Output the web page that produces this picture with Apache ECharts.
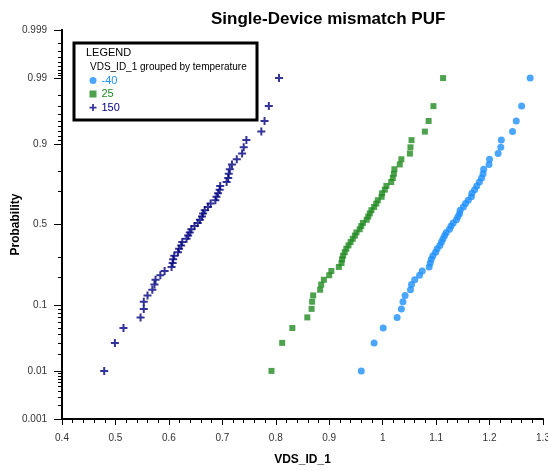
<!DOCTYPE html>
<html>
<head>
<meta charset="utf-8">
<script src="https://cdn.jsdelivr.net/npm/echarts@6/dist/echarts.min.js"></script>
<style>
html, body { margin: 0; padding: 0; background: #fff; }
#chart { width: 548px; height: 471px; }
</style>
</head>
<body>
<div id="chart"></div>
<script>
// sorted VDS_ID_1 readings per temperature group (50 devices each)
const temps = ['-40', '25', '150']
const vdsMinus40 = [0.960, 0.984, 1.001, 1.027, 1.035, 1.038, 1.042, 1.052, 1.054, 1.060,
  1.069, 1.074, 1.087, 1.089, 1.091, 1.094, 1.099, 1.102, 1.107, 1.110,
  1.113, 1.116, 1.119, 1.125, 1.128, 1.132, 1.138, 1.141, 1.144, 1.145,
  1.151, 1.155, 1.160, 1.166, 1.167, 1.172, 1.176, 1.181, 1.185, 1.188,
  1.189, 1.199, 1.200, 1.216, 1.221, 1.222, 1.243, 1.250, 1.260, 1.276]
const vds25 = [0.792, 0.812, 0.831, 0.859, 0.867, 0.868, 0.870, 0.883, 0.885, 0.890,
  0.900, 0.904, 0.918, 0.923, 0.924, 0.926, 0.929, 0.932, 0.936, 0.940,
  0.944, 0.948, 0.951, 0.957, 0.960, 0.963, 0.970, 0.973, 0.976, 0.979,
  0.984, 0.988, 0.991, 0.998, 0.999, 1.004, 1.007, 1.016, 1.019, 1.021,
  1.022, 1.032, 1.035, 1.051, 1.052, 1.054, 1.079, 1.086, 1.095, 1.113]
const vds150 = [0.479, 0.499, 0.515, 0.547, 0.553, 0.553, 0.560, 0.569, 0.573, 0.575,
  0.584, 0.592, 0.605, 0.607, 0.608, 0.610, 0.617, 0.619, 0.623, 0.625,
  0.633, 0.636, 0.639, 0.642, 0.648, 0.654, 0.658, 0.662, 0.664, 0.667,
  0.673, 0.678, 0.687, 0.689, 0.692, 0.695, 0.696, 0.708, 0.711, 0.712,
  0.714, 0.718, 0.727, 0.737, 0.740, 0.745, 0.773, 0.779, 0.787, 0.806]

const probLabels = [0.001, 0.01, 0.1, 0.5, 0.9, 0.99, 0.999]
const probMinor = [0.002, 0.003, 0.004, 0.005, 0.006, 0.007, 0.008, 0.009,
  0.02, 0.03, 0.04, 0.05, 0.06, 0.07, 0.08, 0.09, 0.2, 0.3, 0.7, 0.8,
  0.91, 0.92, 0.93, 0.94, 0.95, 0.96, 0.97, 0.98,
  0.991, 0.992, 0.993, 0.994, 0.995, 0.996, 0.997, 0.998]

const colors = ['#1E90FF', '#228B22', '#000080']
const FONT = 'Arial, "Liberation Sans", sans-serif'
const PLUS = 'path://M3,0H5V3H8V5H5V8H3V5H0V3H3Z'

// inverse normal cdf (Acklam) -> probability axis is linear in z
function probit(p) {
  const a = [-39.69683028665376, 220.9460984245205, -275.9285104469687, 138.3577518672690, -30.66479806614716, 2.506628277459239]
  const b = [-54.47609879822406, 161.5858368580409, -155.6989798598866, 66.80131188771972, -13.28068155288572]
  const c = [-0.007784894002430293, -0.3223964580411365, -2.400758277161838, -2.549732539343734, 4.374664141464968, 2.938163982698783]
  const d = [0.007784695709041462, 0.3224671290700398, 2.445134137142996, 3.754408661907416]
  const lo = 0.02425
  let q, r
  if (p < lo) {
    q = Math.sqrt(-2 * Math.log(p))
    return (((((c[0] * q + c[1]) * q + c[2]) * q + c[3]) * q + c[4]) * q + c[5]) / ((((d[0] * q + d[1]) * q + d[2]) * q + d[3]) * q + 1)
  }
  if (p > 1 - lo) return -probit(1 - p)
  q = p - 0.5
  r = q * q
  return (((((a[0] * r + a[1]) * r + a[2]) * r + a[3]) * r + a[4]) * r + a[5]) * q / (((((b[0] * r + b[1]) * r + b[2]) * r + b[3]) * r + b[4]) * r + 1)
}

// plotting position (i - 0.5) / n for sorted values
const toPoints = vals => vals.map((v, i) => [v, probit((i + 0.5) / vals.length)])

const zMax = probit(0.999)
const labelZ = probLabels.map(probit)
const minorZ = probMinor.map(probit)
const labelFor = z => {
  const k = labelZ.findIndex(v => Math.abs(v - z) < 1e-6)
  return k < 0 ? '' : String(probLabels[k])
}

const chart = echarts.init(document.getElementById('chart'))
const axisText = { color: '#333', fontSize: 10, fontFamily: FONT }
const blackLine = { color: '#000', width: 2 }

chart.setOption({
  animation: false,
  backgroundColor: '#fff',
  title: {
    text: 'Single-Device mismatch PUF',
    left: 206, top: 6,
    textStyle: { fontSize: 17, fontWeight: 'bold', color: '#000', fontFamily: FONT }
  },
  grid: { left: 62, right: 5, top: 30, bottom: 52, outerBoundsMode: 'none' },
  xAxis: {
    type: 'value', min: 0.4, max: 1.3, interval: 0.1,
    name: 'VDS_ID_1', nameLocation: 'middle', nameGap: 35, nameMoveOverlap: false,
    nameTextStyle: { fontSize: 12, fontWeight: 'bold', color: '#000', fontFamily: FONT },
    axisLine: { show: true, onZero: false, lineStyle: blackLine },
    axisTick: { show: true, length: 6, lineStyle: { color: '#000' } },
    minorTick: { show: true, splitNumber: 5, length: 4, lineStyle: { color: '#000', width: 1 } },
    axisLabel: { ...axisText, margin: 14 },
    splitLine: { show: false },
    minorSplitLine: { show: false }
  },
  yAxis: [{
    type: 'value', min: -zMax, max: zMax,
    name: 'Probability', nameLocation: 'middle', nameGap: 40, nameMoveOverlap: false,
    nameTextStyle: { fontSize: 12, fontWeight: 'bold', color: '#000', fontFamily: FONT },
    axisLine: { show: true, onZero: false, lineStyle: blackLine },
    axisTick: { show: true, length: 8, customValues: labelZ, lineStyle: { color: '#000' } },
    axisLabel: { ...axisText, margin: 15, customValues: labelZ, formatter: labelFor },
    splitLine: { show: false }
  }, {
    type: 'value', min: -zMax, max: zMax, position: 'left', offset: 0,
    axisLine: { show: true, onZero: false, lineStyle: blackLine },
    axisTick: { show: true, length: 4, customValues: minorZ, lineStyle: { color: '#000' } },
    axisLabel: { show: false },
    splitLine: { show: false }
  }],
  legend: {
    orient: 'vertical', left: 89.5, top: 75, padding: 0,
    itemWidth: 7, itemHeight: 7, itemGap: 2.5,
    textStyle: { fontSize: 11, fontFamily: FONT },
    data: temps.map((t, i) => ({ name: t, textStyle: { color: colors[i] } }))
  },
  graphic: [
    { type: 'rect', z: 3, shape: { x: 74, y: 43, width: 183, height: 77 },
      style: { fill: '#fff', stroke: '#000', lineWidth: 3 } },
    { type: 'text', z: 4, x: 86, y: 53,
      style: { text: 'LEGEND', fill: '#000', font: '11px ' + FONT, verticalAlign: 'middle' } },
    { type: 'text', z: 4, x: 90, y: 67,
      style: { text: 'VDS_ID_1 grouped by temperature', fill: '#000', font: '10px ' + FONT, verticalAlign: 'middle' } }
  ],
  series: [
    { name: temps[0], type: 'scatter', symbol: 'circle', symbolSize: 7,
      itemStyle: { color: colors[0] }, data: toPoints(vdsMinus40) },
    { name: temps[1], type: 'scatter', symbol: 'rect', symbolSize: 6,
      itemStyle: { color: colors[1] }, data: toPoints(vds25) },
    { name: temps[2], type: 'scatter', symbol: PLUS, symbolSize: 8,
      itemStyle: { color: colors[2] }, data: toPoints(vds150) }
  ]
})
</script>
</body>
</html>
